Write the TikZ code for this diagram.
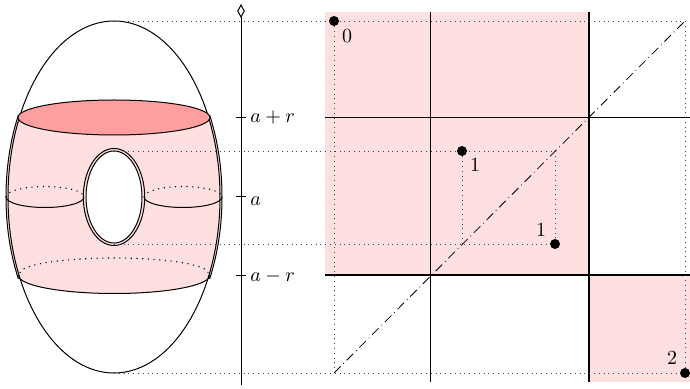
\documentclass[tikz,border=0pt]{standalone}
\usetikzlibrary{arrows.meta}
\definecolor{bandpink}{HTML}{FFE0E0}
\definecolor{cappink}{HTML}{FF9E9E}
\tikzset{
	guide/.style={dotted,line width=.4pt,black!75},
	hidden/.style={dash pattern=on .55pt off 2.3pt,line width=.55pt},
	diag/.style={dash pattern=on 4.6pt off 2pt on .4pt off 2pt},
	pdot/.style={circle,fill=black,inner sep=0pt,minimum size=5pt},
	lab/.style={inner sep=0pt}
}
\begin{document}
\begin{tikzpicture}[x=.5pt,y=-.5pt]
		\useasboundingbox (0,0) rectangle (690,389);
		% Points used by the dotted lines
		\coordinate (top) at (114,21);
		\coordinate (bot) at (114,373);
		\coordinate (holeT) at (114,151);
		\coordinate (holeB) at (114,244);
		\coordinate (endT) at (685,21);
		\coordinate (endB) at (334,373);
		\coordinate (diagT) at (462,244);
		\coordinate (diagB) at (555,151);
		% Pink regions of the square
		\fill[bandpink] (325,12) rectangle (589,275.5);
		\fill[bandpink] (589,275.5) rectangle (690,382);
		% Pink band of the surface
		\begin{scope}
			\clip (114,197) circle (108 and 176);
			\fill[bandpink] (0,117) rectangle (230,276);
			\fill[bandpink] (114,275.5) circle (96 and 18);
		\end{scope}
		\begin{scope}[line width=.5pt]
			\clip (0,116) rectangle (230,279);
			\draw (114,197) circle (108 and 176);
		\end{scope}
		\draw[line width=.5pt] (114,197) circle (106 and 176);
		\draw[line width=.5pt,fill=cappink] (114,117.5) circle (96 and 17.5);
		\draw[line width=.5pt] (18.5,275.5) arc (180:0:95.5 and 18);
		\draw[hidden] (20,273) arc (180:360:94 and 15);
		% Sections and hole
		\draw[line width=.5pt] (6,197) arc (180:0:39 and 10.5);
		\draw[hidden] (6,197) arc (180:360:39 and 10.5);
		\draw[line width=.5pt] (144,197) arc (180:0:39 and 10.5);
		\draw[hidden] (144,197) arc (180:360:39 and 10.5);
		\draw[line width=.5pt] (114,197) circle (30.7 and 48.5);
		\draw[line width=.5pt,fill=white] (114,197) circle (28 and 46);
		% Axis
		\draw[line width=.5pt,-{Diamond[open,length=7pt,width=3.8pt]}] (241,385) -- (241,4);
		\foreach \y/\ly/\t/\n in {117.5/117.5/a+r/up,197/201/a/mid,275.5/276.5/a-r/low}{
			\draw[line width=.5pt] (236,\y) -- (246,\y);
			\node[lab,anchor=west] (\n) at (250,\ly) {$\t$};
		}
		% Grid of the square
		\draw[line width=.5pt] (430.5,12) -- (430.5,382);
		\draw[thick] (589,12) -- (589,382);
		\draw[line width=.5pt] (325,117.5) -- (690,117.5);
		\draw[line width=.9pt] (325,275.2) -- (690,275.2);
		% Points
		\node[pdot] (p0) at (334,21) {};
		\node[pdot] (p1) at (462,151) {};
		\node[pdot] (q1) at (555,244) {};
		\node[pdot] (p2) at (685,373) {};
		\node[lab] (l0) at (347,36) {$0$};
		\node[lab] (l1) at (475,165) {$1$};
		\node[lab] (m1) at (541,230) {$1$};
		\node[lab] (l2) at (672,358) {$2$};
		% Dotted lines
		\draw[guide] (top) -- (endT);
		\draw[guide] (bot) -- (p2);
		\draw[guide] (holeT) -- (diagB);
		\draw[guide] (holeB) -- (q1);
		\draw[guide] (p0) -- (endB);
		\draw[guide] (endT) -- (p2);
		\draw[guide] (p1) -- (diagT);
		\draw[guide] (diagB) -- (q1);
		\draw[diag] (endB) -- (endT);
\end{tikzpicture}
\end{document}
